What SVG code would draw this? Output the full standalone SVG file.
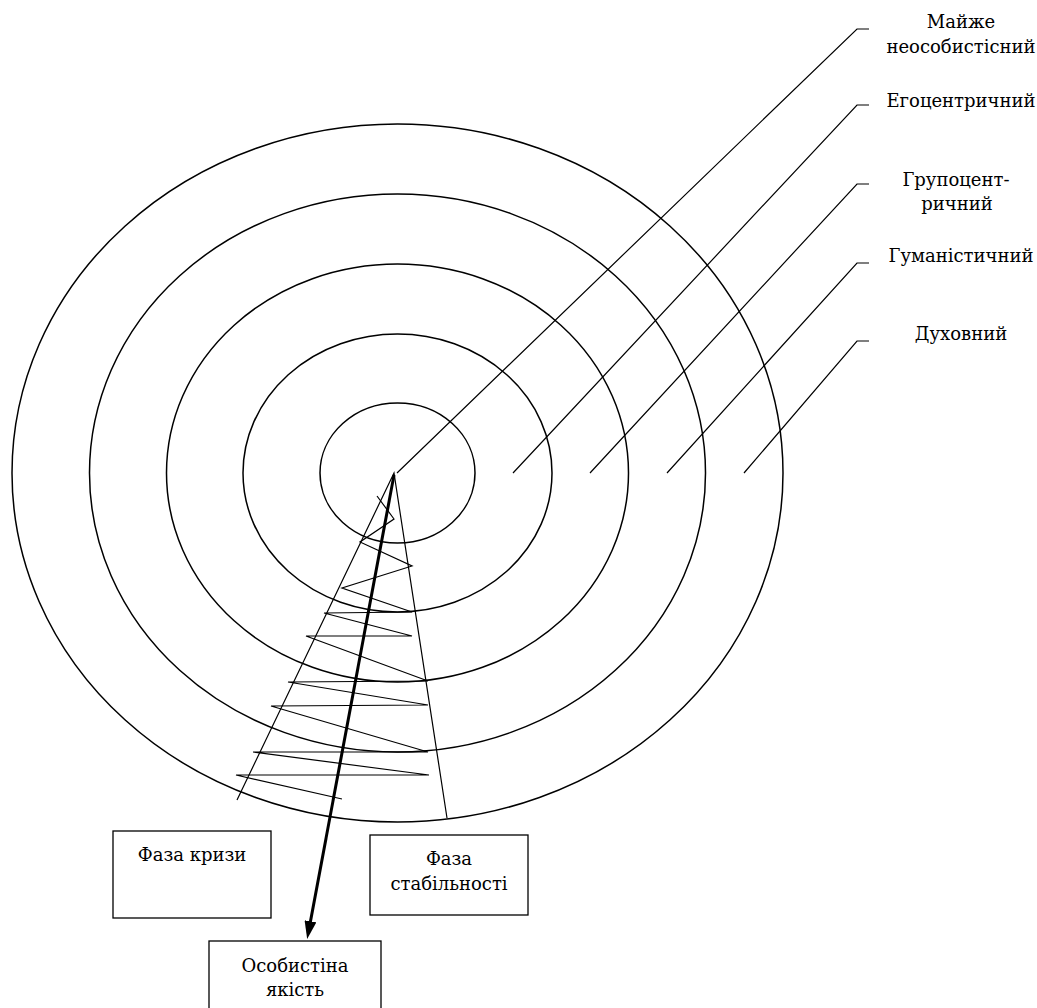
<svg xmlns="http://www.w3.org/2000/svg" width="1037" height="1008" viewBox="0 0 1037 1008">
<style>
.ring{fill:none;stroke:#000;stroke-width:1.5}
.ln{fill:none;stroke:#000;stroke-width:1.2}
.box{fill:#fff;stroke:#000;stroke-width:1.3}
.t{font-family:'DejaVu Serif','Liberation Serif',serif;font-size:18px;fill:#000;text-anchor:middle}
</style>
<defs>
<marker id="ah" viewBox="0 0 18 12" refX="1" refY="6" markerWidth="18" markerHeight="12" markerUnits="userSpaceOnUse" orient="auto">
<path d="M0,0 L18,6 L0,12 z" fill="#000"/>
</marker>
</defs>
<rect width="1037" height="1008" fill="#fff"/>
<g id="rings">
<ellipse class="ring" cx="397.5" cy="473" rx="385.5" ry="349"/>
<ellipse class="ring" cx="397.5" cy="473" rx="308" ry="279"/>
<ellipse class="ring" cx="397.5" cy="473" rx="231" ry="209"/>
<ellipse class="ring" cx="397.5" cy="473" rx="154.5" ry="139"/>
<ellipse class="ring" cx="397.5" cy="473" rx="77.5" ry="70"/>
</g>
<g id="connectors">
<polyline class="ln" points="397,473 857,29 869,29"/>
<polyline class="ln" points="513,473 857,105 869,105"/>
<polyline class="ln" points="590,473 857,184 869,184"/>
<polyline class="ln" points="667,473 857,263 869,263"/>
<polyline class="ln" points="744,473 857,341 869,341"/>
<polyline class="ln" points="237,800 394,473 447,818"/>
<polyline class="ln" points="377,496 394,519 360,542 412,566 342,588 412,612 324,613 412,636 306,636 428,681 288,682 428,705 271,706 428,752 253,752 429,775 236,775 342,799"/>
<line x1="394" y1="475" x2="310.3" y2="922.3" stroke="#000" stroke-width="3" marker-end="url(#ah)"/>
</g>
<g id="labels">
<text class="t" x="961" y="28">Майже</text>
<text class="t" x="961" y="53">неособистісний</text>
<text class="t" x="961" y="107">Егоцентричний</text>
<text class="t" x="956" y="186">Групоцент-</text>
<text class="t" x="957" y="210">ричний</text>
<text class="t" x="961" y="262">Гуманістичний</text>
<text class="t" x="961" y="340">Духовний</text>
</g>
<g id="crisis">
<rect class="box" x="113" y="831" width="158" height="87"/>
<text class="t" x="192" y="861">Фаза кризи</text>
</g>
<g id="stability">
<rect class="box" x="370" y="835" width="158" height="80"/>
<text class="t" x="449" y="865">Фаза</text>
<text class="t" x="449" y="890">стабільності</text>
</g>
<g id="quality">
<rect class="box" x="209" y="941" width="172" height="80"/>
<text class="t" x="295" y="972">Особистіна</text>
<text class="t" x="295" y="996">якість</text>
</g>
</svg>
